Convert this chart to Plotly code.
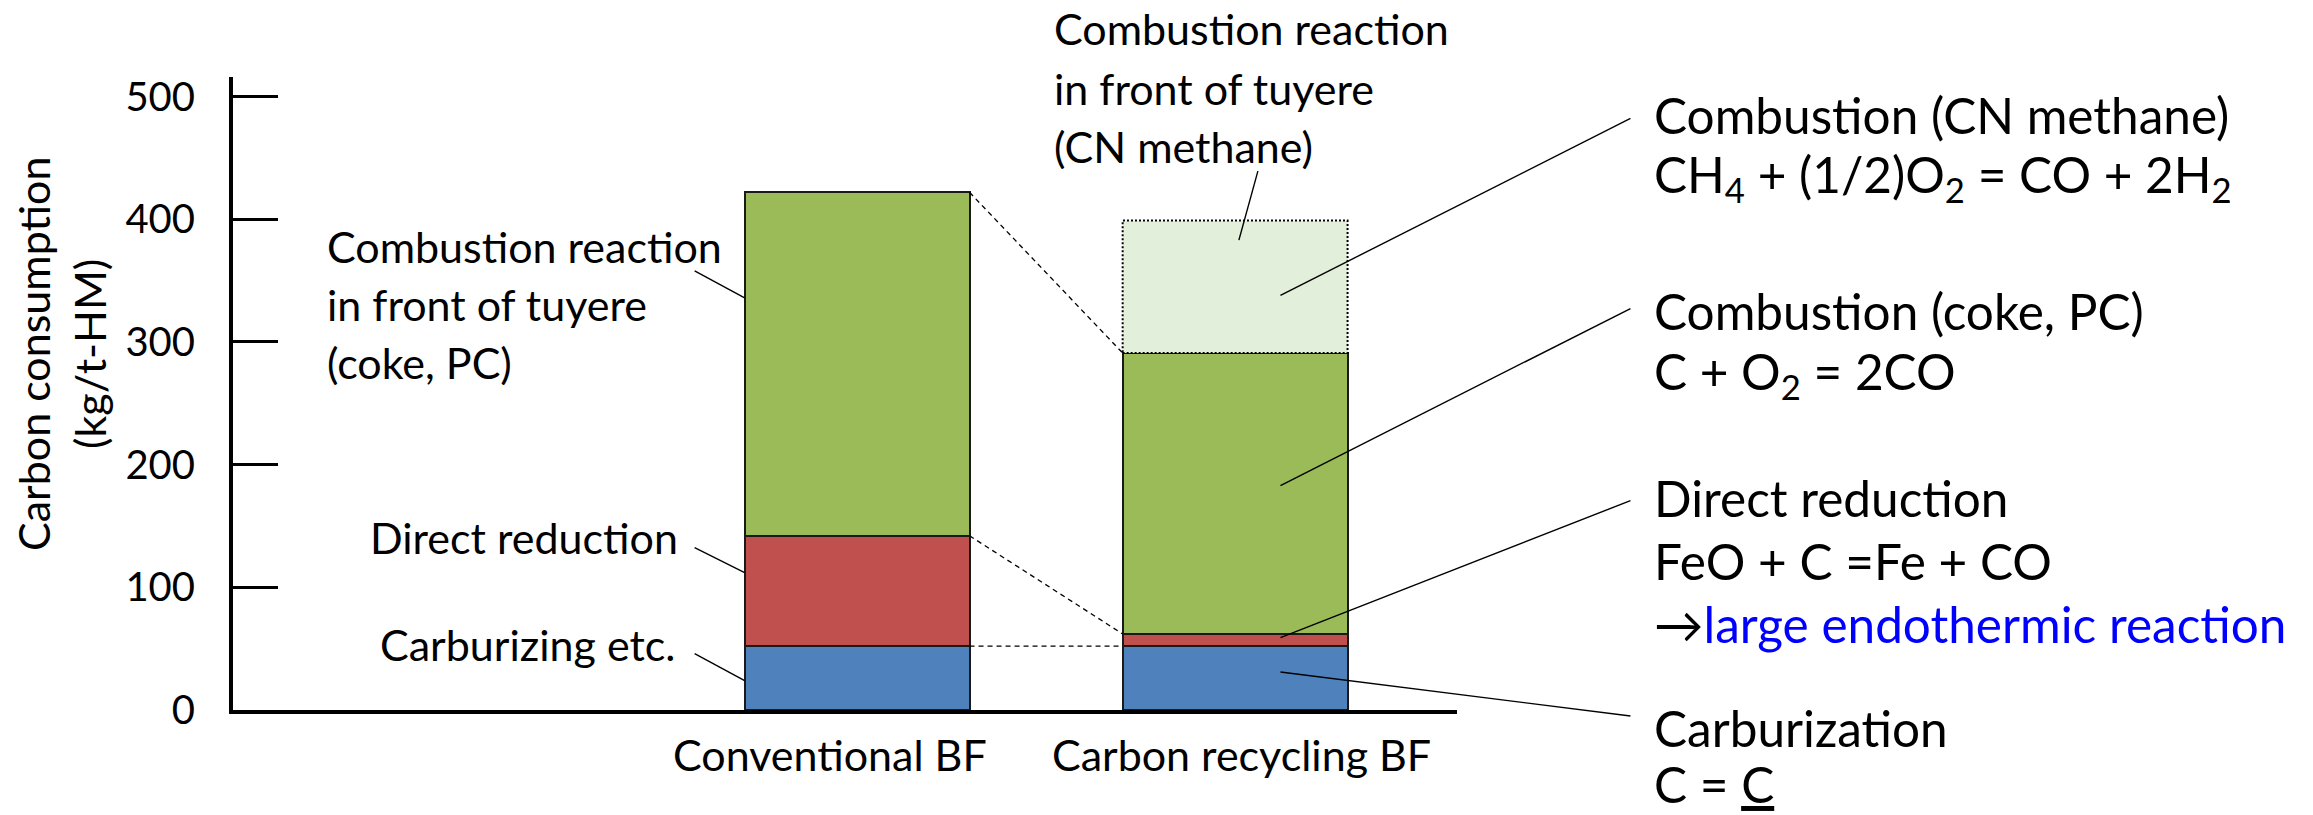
import plotly.graph_objects as go

# ---- data -------------------------------------------------------------
categories = ["Conventional BF", "Carbon recycling BF"]
carburizing = [52, 52]            # Carburizing etc.
direct_reduction = [90, 10]       # Direct reduction
combustion_coke_pc = [280, 229]   # Combustion in front of tuyere (coke, PC)
combustion_methane = [0, 108]     # Combustion in front of tuyere (CN methane)
y_ticks = [0, 100, 200, 300, 400, 500]

# ---- geometry ---------------------------------------------------------
x_pos = [1, 2]
BAR_W = 0.595
LABEL_SHIFT = [-0.072, 0.017]     # category labels sit slightly off bar centre
X_RANGE = [-0.651, 2.587]
Y_RANGE = [0, 516]
FIG_W, FIG_H = 2313, 815
M_L, M_R, M_T, M_B = 233, 856, 77, 105
PLOT_W = FIG_W - M_L - M_R
PLOT_H = FIG_H - M_T - M_B
FONT = "Lato"


def px(x):
    """figure pixel x -> paper coordinate"""
    return (x - M_L) / PLOT_W


def py(y):
    """figure pixel y -> paper coordinate"""
    return (FIG_H - M_B - y) / PLOT_H


def xd(v):
    """x data value -> paper coordinate"""
    return (v - X_RANGE[0]) / (X_RANGE[1] - X_RANGE[0])


def yd(v):
    """y data value -> paper coordinate"""
    return (v - Y_RANGE[0]) / (Y_RANGE[1] - Y_RANGE[0])


level1 = carburizing
level2 = [a + b for a, b in zip(level1, direct_reduction)]
level3 = [a + b for a, b in zip(level2, combustion_coke_pc)]
level4 = [a + b for a, b in zip(level3, combustion_methane)]

fig = go.Figure()
edge = dict(color="#1a1a1a", width=2)
fig.add_trace(go.Bar(x=x_pos, y=carburizing, width=BAR_W,
                     marker=dict(color="#4F81BD", line=edge)))
fig.add_trace(go.Bar(x=x_pos, y=direct_reduction, width=BAR_W,
                     marker=dict(color="#C0504D", line=edge)))
fig.add_trace(go.Bar(x=x_pos, y=combustion_coke_pc, width=BAR_W,
                     marker=dict(color="#9BBB59", line=edge)))
fig.add_trace(go.Bar(x=x_pos, y=combustion_methane, width=BAR_W,
                     marker=dict(color="#E2EFDA", line=dict(width=0))))

shapes = []
# dotted outline of the methane segment
shapes.append(dict(type="rect", xref="x", yref="y",
                   x0=x_pos[1] - BAR_W / 2, x1=x_pos[1] + BAR_W / 2,
                   y0=level3[1], y1=level4[1],
                   line=dict(color="black", width=2, dash="2px,2px")))
# dashed connectors between the two bars
for lvl in (level1, level2, level3):
    shapes.append(dict(type="line", xref="x", yref="y",
                       x0=x_pos[0] + BAR_W / 2, y0=lvl[0],
                       x1=x_pos[1] - BAR_W / 2, y1=lvl[1],
                       line=dict(color="black", width=1.3, dash="5px,4px")))


def leader(x, y, dx, dy):
    """thin callout line from a point on a bar (data units) to a label,
    the label end given as a pixel offset"""
    x0, y0 = xd(x), yd(y)
    shapes.append(dict(type="line", xref="paper", yref="paper",
                       x0=x0, y0=y0,
                       x1=x0 + dx / PLOT_W, y1=y0 - dy / PLOT_H,
                       line=dict(color="black", width=1.4)))


annotations = []


def text(x, y, s, size, anchor="left"):
    annotations.append(dict(x=px(x), y=py(y), xref="paper", yref="paper",
                            text=s, showarrow=False, xanchor=anchor,
                            yanchor="middle",
                            font=dict(family=FONT, size=size, color="black")))


# left-hand labels
text(325, 247, "Combustion reaction", 43)
text(325, 304, "in front of tuyere", 43)
text(325, 362, "(coke, PC)", 43)
text(680, 537, "Direct reduction", 43, "right")
text(677, 644, "Carburizing etc.", 43, "right")
# label above the second bar
text(1052, 28, "Combustion reaction", 43)
text(1052, 89, "in front of tuyere", 43)
text(1052, 147, "(CN methane)", 43)
# reactions on the right
R = 1652
RS = 49.5
text(R, 115, "Combustion (CN methane)", RS)
text(R, 177, "CH<sub>4</sub> + (1/2)O<sub>2</sub> = CO + 2H<sub>2</sub>", RS)
text(R, 311, "Combustion (coke, PC)", RS)
text(R, 374, "C + O<sub>2</sub> = 2CO", RS)
text(R, 498, "Direct reduction", RS)
text(R, 561, "FeO + C =Fe + CO", RS)
text(R, 624, "→<span style='color:#0000FF'>large endothermic reaction</span>", RS)
text(R, 728, "Carburization", RS)
text(R, 784, "C = <u>C</u>", RS)

# y-axis title
annotations.append(dict(x=px(61), y=py(354), xref="paper", yref="paper",
                        text="Carbon consumption<br>(kg/t-HM)", showarrow=False,
                        textangle=-90, xanchor="center", yanchor="middle",
                        font=dict(family=FONT, size=43, color="black")))

# leader lines
left_edge = x_pos[0] - BAR_W / 2
leader(left_edge, 336, -50, -27)
leader(left_edge, 112, -50, -25)
leader(left_edge, 24, -50, -27)
leader(2.01, 383, 19, -69)
leader(2.12, 338, 350, -177)
leader(2.12, 183, 350, -177)
leader(2.12, 59, 350, -137)
leader(2.12, 31, 350, 44)

fig.update_layout(
    width=FIG_W, height=FIG_H,
    margin=dict(l=M_L, r=M_R, t=M_T, b=M_B, pad=0),
    barmode="stack", bargap=0,
    showlegend=False,
    plot_bgcolor="white", paper_bgcolor="white",
    font=dict(family=FONT, color="black"),
    shapes=shapes, annotations=annotations,
    xaxis=dict(range=X_RANGE,
               tickvals=[x + d for x, d in zip(x_pos, LABEL_SHIFT)],
               ticktext=categories,
               showline=True, linewidth=4, linecolor="black",
               ticks="", showgrid=False, zeroline=False,
               tickfont=dict(family=FONT, size=43, color="black"),
               ticklabelstandoff=5),
    yaxis=dict(range=Y_RANGE, tickvals=y_ticks,
               showline=True, linewidth=4, linecolor="black",
               ticks="inside", ticklen=45, tickwidth=3, tickcolor="black",
               showgrid=False, zeroline=False,
               tickfont=dict(family=FONT, size=40, color="black"),
               ticklabelstandoff=26),
)

fig.write_html("out.html")
